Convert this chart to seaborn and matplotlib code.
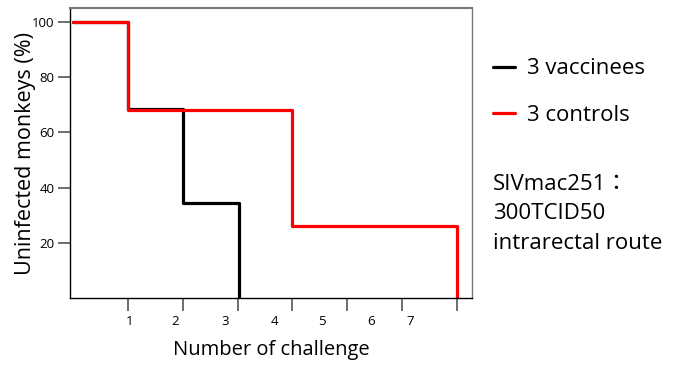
import matplotlib
matplotlib.use("Agg")
import matplotlib.pyplot as plt
import seaborn as sns
import pandas as pd

sns.set_style("white")
plt.rcParams['font.family'] = ['Open Sans', 'Noto Sans CJK JP', 'DejaVu Sans']
plt.rcParams['text.color'] = 'black'
plt.rcParams['axes.labelcolor'] = 'black'

# data
vacc_x = [0, 1, 2, 3.03]
vacc_y = [100, 68.5, 34.5, 0]
ctrl_x = [0, 1, 4, 7]
ctrl_y = [100, 68, 26, 0]
series_names = ["3 vaccinees", "3 controls"]
x_tick_pos = [1, 2, 3, 4, 5, 6, 7]
x_label_pos = [1.02, 1.86, 2.77, 3.68, 4.54, 5.43, 6.15]
x_labels = ["1", "2", "3", "4", "5", "6", "7"]
y_ticks = [20, 40, 60, 80, 100]

df = pd.concat([
    pd.DataFrame({"x": vacc_x, "y": vacc_y, "group": series_names[0]}),
    pd.DataFrame({"x": ctrl_x, "y": ctrl_y, "group": series_names[1]}),
])

fig = plt.figure(figsize=(6.74, 3.65), dpi=100)
ax = fig.add_axes([0.1039, 0.1836, 0.5964, 0.7944])

sns.lineplot(data=df, x="x", y="y", hue="group", palette={series_names[0]: "black", series_names[1]: "red"},
             drawstyle="steps-post", linewidth=2.3, ax=ax, legend=False, estimator=None, sort=False)

ax.set_xlim(-0.06, 7.28)
ax.set_ylim(0, 105)

ax.set_xticks(x_tick_pos)
ax.set_xticklabels([""] * len(x_tick_pos))
ax.set_xticks(x_label_pos, minor=True)
ax.set_xticklabels(x_labels, minor=True, fontsize=9.5)
ax.tick_params(axis="x", which="major", length=9, width=1.2, color="#555555", direction="out", bottom=True)
ax.tick_params(axis="x", which="minor", length=0, pad=12, bottom=True, labelcolor="black")

ax.set_yticks(y_ticks)
ax.set_yticklabels([str(v) for v in y_ticks], fontsize=9.5)
ax.tick_params(axis="y", length=9, width=1.2, color="#555555", direction="out", left=True, pad=2,
               labelcolor="black")

for s in ["left", "bottom"]:
    ax.spines[s].set_color("black")
    ax.spines[s].set_linewidth(1.0)
ax.spines["top"].set_color("#777777")
ax.spines["top"].set_linewidth(1.5)
ax.spines["right"].set_color("#777777")
ax.spines["right"].set_linewidth(1.0)

ax.set_xlabel("Number of challenge", fontsize=14.5, labelpad=9)
ax.set_ylabel("Uninfected monkeys (%)", fontsize=15.5, labelpad=-3)

# legend
from matplotlib.lines import Line2D
handles = [Line2D([0], [0], color="black", lw=2.3), Line2D([0], [0], color="red", lw=2.3)]
leg = fig.legend(handles, series_names, loc="upper left", bbox_to_anchor=(0.731, 0.84), frameon=False,
                 fontsize=16, handlelength=1.0, handletextpad=0.55, labelspacing=1.15,
                 borderaxespad=0, borderpad=0, labelcolor="black")

fig.text(0.731, 0.414, "SIVmac251：\n300TCID50\nintrarectal route", fontsize=16, va="center", ha="left",
         linespacing=1.52, color="black")

fig.savefig("out.png", dpi=100)
